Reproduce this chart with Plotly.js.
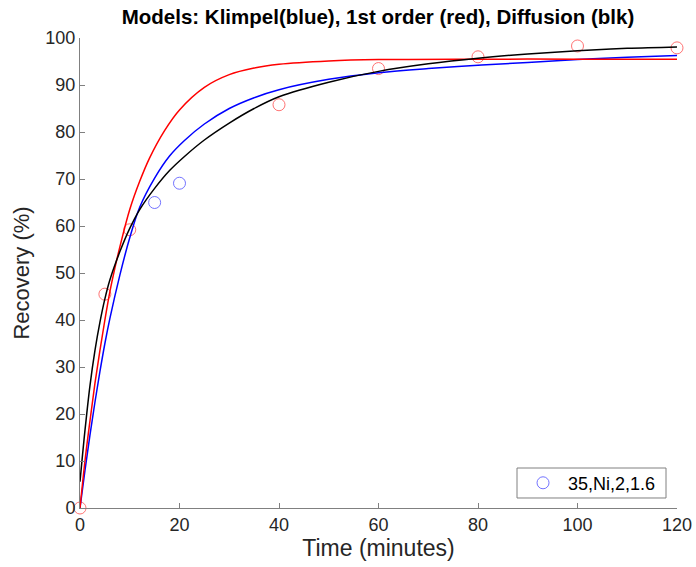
<!DOCTYPE html>
<html>
<head>
<meta charset="utf-8">
<script src="https://cdn.plot.ly/plotly-3.0.1.min.js"></script>
<style>html,body{margin:0;padding:0;background:#fff;}#chart{width:696px;height:567px;}</style>
</head>
<body>
<div id="chart"></div>
<script>
// Measured data points (red-drawn and blue-drawn circles)
const timeRed = [0, 5, 10, 40, 60, 80, 100, 120];
const recRed = [0, 45.5, 59.2, 85.8, 93.5, 96.0, 98.3, 97.9];
const timeBlue = [15, 20];
const recBlue = [65.0, 69.1];

// Model curves
const klimpelT = [0, 1, 2, 3, 4, 5, 6, 8, 10, 12, 15, 18, 21, 25, 30, 35, 40, 50, 60, 70, 80, 90, 100, 110, 120];
const klimpelR = [0, 8, 15.5, 22.5, 29, 35, 40.3, 49.5, 57.5, 64.0, 70.2, 74.9, 78.2, 81.7, 85.0, 87.3, 89.0, 91.2, 92.6, 93.5, 94.2, 94.8, 95.4, 95.9, 96.3];

const firstT = [0, 1, 2, 3, 4, 5, 6, 7, 8, 10, 12, 14, 17, 20, 25, 30, 35, 40, 50, 60, 80, 100, 120];
const firstR = [0, 10, 18.5, 26.5, 33.5, 40, 46, 51, 55.5, 63.5, 69.5, 74.5, 80.3, 84.7, 89.5, 92.2, 93.6, 94.4, 95.1, 95.4, 95.5, 95.5, 95.5];

const diffT = [0, 1, 2, 3, 4, 5, 6, 8, 10, 12, 15, 18, 21, 25, 30, 35, 40, 50, 60, 70, 80, 90, 100, 110, 120];
const diffR = [5.6, 16.5, 26, 33.5, 39.5, 44.5, 48.5, 54.5, 59.5, 63.5, 68, 71.8, 74.8, 78.3, 81.9, 85.0, 87.5, 90.6, 92.9, 94.5, 95.7, 96.6, 97.3, 97.8, 98.1];

const seriesName = '35,Ni,2,1.6';
const titleText = 'Models: Klimpel(blue), 1st order (red), Diffusion (blk)';
const xTicks = [0, 20, 40, 60, 80, 100, 120];
const yTicks = [0, 10, 20, 30, 40, 50, 60, 70, 80, 90, 100];

const font = 'Helvetica, Arial, "Liberation Sans", sans-serif';

const traces = [
  {x: timeBlue, y: recBlue, mode: 'markers', type: 'scatter', name: seriesName,
   marker: {symbol: 'circle-open', size: 12, color: 'rgba(90,90,255,0.85)', line: {width: 1}},
   showlegend: true, cliponaxis: false},
  {x: timeRed, y: recRed, mode: 'markers', type: 'scatter', name: 'data',
   marker: {symbol: 'circle-open', size: 12, color: 'rgba(255,90,90,0.85)', line: {width: 1}},
   showlegend: false, cliponaxis: false},
  {x: klimpelT, y: klimpelR, mode: 'lines', type: 'scatter', line: {color: '#0000ff', width: 1.5, shape: 'spline', smoothing: 1}, showlegend: false},
  {x: firstT, y: firstR, mode: 'lines', type: 'scatter', line: {color: '#ff0000', width: 1.5, shape: 'spline', smoothing: 1}, showlegend: false},
  {x: diffT, y: diffR, mode: 'lines', type: 'scatter', line: {color: '#000000', width: 1.5, shape: 'spline', smoothing: 1}, showlegend: false}
];

const layout = {
  width: 696, height: 567,
  margin: {l: 80, r: 19, t: 38, b: 59, pad: 0},
  paper_bgcolor: '#fff', plot_bgcolor: '#fff',
  font: {family: font, color: '#262626', size: 18},
  title: {text: '<b>' + titleText + '</b>', font: {family: font, size: 20.5, color: '#000'},
          x: 0.5431, xanchor: 'center', y: 0.970, yanchor: 'middle'},
  xaxis: {range: [0, 120], tickvals: xTicks, ticktext: xTicks.map(String), ticks: 'inside', ticklen: 5,
          tickcolor: '#808080', showline: true, linecolor: '#808080', linewidth: 1, showgrid: false,
          zeroline: false, tickfont: {size: 18, color: '#262626'},
          title: {text: 'Time (minutes)', font: {size: 23, color: '#262626'}, standoff: 6}},
  yaxis: {range: [0, 100], tickvals: yTicks, ticktext: yTicks.map(String), ticks: 'inside', ticklen: 5,
          tickcolor: '#808080', showline: true, linecolor: '#808080', linewidth: 1, showgrid: false,
          zeroline: false, tickfont: {size: 18, color: '#262626'},
          title: {text: 'Recovery (%)', font: {size: 22, color: '#262626'}, standoff: 9}},
  shapes: [{type: 'rect', xref: 'paper', yref: 'paper', x0: 0.732, x1: 0.9816, y0: 0.0213, y1: 0.0851,
            line: {color: '#808080', width: 1}, fillcolor: '#fff', layer: 'below'}],
  showlegend: true,
  legend: {x: 0.7337, xanchor: 'left', y: 0.053, yanchor: 'middle', bgcolor: 'rgba(0,0,0,0)', itemwidth: 40,
           borderwidth: 0, font: {size: 18, color: '#000'}}
};

Plotly.newPlot('chart', traces, layout, {displayModeBar: false, staticPlot: true});
</script>
</body>
</html>
